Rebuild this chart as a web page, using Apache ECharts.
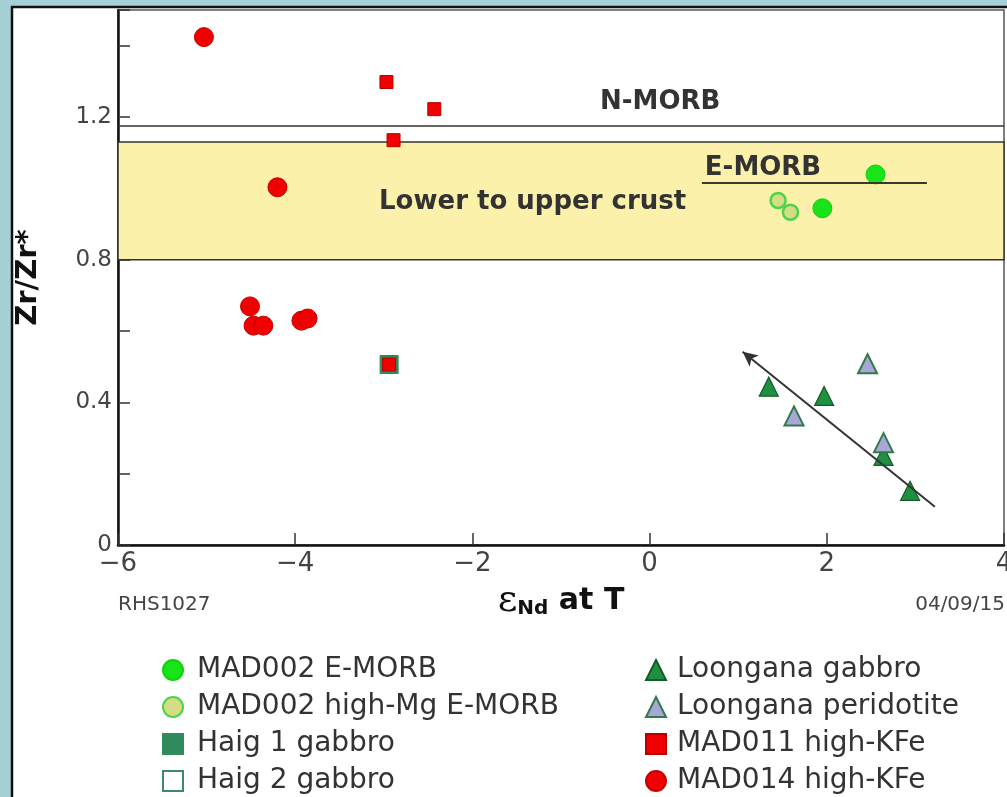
<!DOCTYPE html>
<html>
<head>
<meta charset="utf-8">
<script src="https://cdn.jsdelivr.net/npm/echarts@6/dist/echarts.min.js"></script>
<style>
  html, body { margin: 0; padding: 0; background: #a6d0d6; }
  #chart { width: 1007px; height: 797px; }
</style>
</head>
<body>
<div id="chart"></div>
<script>
// eNd at T vs Zr/Zr*
var mad002EMorb = [[2.55, 1.039], [1.95, 0.944]];
var mad002HighMg = [[1.45, 0.966], [1.59, 0.933]];
var haig1Gabbro = [[-2.94, 0.506]];
var haig2Gabbro = [];
var loonganaGabbro = [[1.345, 0.444], [1.97, 0.418], [2.64, 0.25], [2.94, 0.152]];
var loonganaPeridotite = [[2.46, 0.508], [1.63, 0.362], [2.64, 0.287]];
var mad011HighKFe = [[-2.97, 1.298], [-2.43, 1.222], [-2.89, 1.135], [-2.94, 0.506]];
var mad014HighKFe = [[-5.03, 1.424], [-4.2, 1.003], [-4.51, 0.669], [-4.47, 0.615],
  [-4.36, 0.615], [-3.93, 0.629], [-3.86, 0.635]];

// reference fields
var crustBand = [0.8, 1.13];
var nMorbLevel = 1.175;
var eMorbLine = [[0.59, 1.017], [3.13, 1.017]];
var trendArrow = [[3.22, 0.107], [1.05, 0.542]];
var notes = [
  { name: 'N-MORB', coord: [0.12, 1.242] },
  { name: 'Lower to upper crust', coord: [-1.32, 0.96] },
  { name: 'E-MORB', coord: [1.28, 1.057] }
];

var legendLeft = ['MAD002 E-MORB', 'MAD002 high-Mg E-MORB', 'Haig 1 gabbro', 'Haig 2 gabbro'];
var legendRight = ['Loongana gabbro', 'Loongana peridotite', 'MAD011 high-KFe', 'MAD014 high-KFe'];

var font = 'DejaVu Sans, Liberation Sans, Arial, sans-serif';
var chart = echarts.init(document.getElementById('chart'));

function minus(v) {
  return v < 0 ? '\u2212' + Math.abs(v) : String(v);
}

var option = {
  backgroundColor: '#a6d0d6',
  animation: false,
  textStyle: { fontFamily: font },
  graphic: [
    {
      type: 'rect', z: -10, silent: true,
      shape: { x: 12, y: 7, width: 1010, height: 810 },
      style: { fill: '#fff', stroke: '#111', lineWidth: 2.5 }
    },
    {
      type: 'text', left: 118, top: 595,
      style: { text: 'RHS1027', fontSize: 20, fill: '#444', fontFamily: font }
    },
    {
      type: 'text', right: 2, top: 595,
      style: { text: '04/09/15', fontSize: 20, fill: '#444', fontFamily: font }
    }
  ],
  grid: {
    left: 118, right: 3, top: 10, bottom: 252,
    outerBoundsMode: 'none',
    show: true, borderColor: '#555', borderWidth: 1.5, backgroundColor: 'transparent'
  },
  legend: [
    {
      data: legendLeft, orient: 'vertical', left: 157, top: 651, height: 300,
      itemWidth: 20, itemHeight: 20, itemGap: 9, selectedMode: false,
      textStyle: { fontSize: 28, color: '#333', fontFamily: font, padding: [0, 0, 0, 9] }
    },
    {
      data: legendRight, orient: 'vertical', left: 640, top: 651, height: 300,
      itemWidth: 20, itemHeight: 20, itemGap: 9, selectedMode: false,
      textStyle: { fontSize: 28, color: '#333', fontFamily: font, padding: [0, 0, 0, 6] }
    }
  ],
  xAxis: {
    type: 'value', min: -6, max: 4, interval: 2,
    name: '{e|\u03b5}{s|Nd}{t| at T}',
    nameLocation: 'middle', nameGap: 26,
    nameTextStyle: {
      rich: {
        e: { fontSize: 38, color: '#111', fontFamily: 'DejaVu Serif, serif' },
        s: { fontSize: 20, fontWeight: 'bold', color: '#111', padding: [16, 0, 0, 0] },
        t: { fontSize: 30, fontWeight: 'bold', color: '#111' }
      }
    },
    axisLine: { onZero: false, lineStyle: { color: '#111', width: 2.5 } },
    axisTick: { inside: true, length: 12, lineStyle: { color: '#333', width: 1.5 } },
    axisLabel: { fontSize: 26, color: '#444', margin: 6, formatter: minus },
    splitLine: { show: false }
  },
  yAxis: {
    type: 'value', min: 0, max: 1.5, interval: 0.2,
    name: 'Zr/Zr*', nameLocation: 'middle', nameGap: 75, nameRotate: 90,
    nameTextStyle: { fontSize: 29, fontWeight: 'bold', color: '#111' },
    axisLine: { onZero: false, lineStyle: { color: '#111', width: 2.5 } },
    axisTick: { inside: true, length: 12, lineStyle: { color: '#333', width: 1.5 } },
    axisLabel: {
      fontSize: 23, color: '#444', margin: 6,
      formatter: function (v) {
        var k = Math.round(v * 10);
        if (k % 4 !== 0) return '';
        return k === 0 ? '0' : v.toFixed(1);
      }
    },
    splitLine: { show: false }
  },
  series: [
    {
      name: 'fields', type: 'scatter', data: [], silent: true, z: 1,
      markArea: {
        silent: true,
        itemStyle: { color: '#fcf1aa', borderColor: '#333', borderWidth: 1.5 },
        data: [[{ yAxis: crustBand[0] }, { yAxis: crustBand[1] }]]
      },
      markLine: {
        silent: true, symbol: ['none', 'none'], precision: 3,
        label: { show: false },
        lineStyle: { color: '#333', width: 1.5, type: 'solid' },
        data: [
          { yAxis: nMorbLevel },
          [{ coord: eMorbLine[0] }, { coord: eMorbLine[1], lineStyle: { color: '#3a3a2a', width: 2 } }],
          [{ coord: trendArrow[0], symbol: 'none' },
           { coord: trendArrow[1], symbol: 'arrow', symbolSize: [11, 15], lineStyle: { color: '#333', width: 2 } }]
        ]
      },
      markPoint: {
        silent: true, symbol: 'circle', symbolSize: 0,
        label: {
          show: true, position: 'inside', formatter: '{b}',
          fontSize: 26, fontWeight: 'bold', color: '#333', fontFamily: font
        },
        data: notes
      }
    },
    {
      name: 'Haig 1 gabbro', type: 'scatter', symbol: 'rect', symbolSize: 18, z: 3,
      itemStyle: { color: '#2f8a5c', borderColor: '#2f8a5c', borderWidth: 1, opacity: 1 },
      data: haig1Gabbro
    },
    {
      name: 'Haig 2 gabbro', type: 'scatter', symbol: 'rect', symbolSize: 18, z: 3,
      itemStyle: { color: '#fff', borderColor: '#3b8a6a', borderWidth: 2, opacity: 1 },
      data: haig2Gabbro
    },
    {
      name: 'MAD011 high-KFe', type: 'scatter', symbol: 'rect', symbolSize: 13, z: 4,
      itemStyle: { color: '#f00000', borderColor: '#b80000', borderWidth: 1, opacity: 1 },
      data: mad011HighKFe
    },
    {
      name: 'MAD014 high-KFe', type: 'scatter', symbol: 'circle', symbolSize: 19, z: 4,
      itemStyle: { color: '#f00000', borderColor: '#c80000', borderWidth: 1, opacity: 1 },
      data: mad014HighKFe
    },
    {
      name: 'MAD002 E-MORB', type: 'scatter', symbol: 'circle', symbolSize: 19, z: 4,
      itemStyle: { color: '#18e418', borderColor: '#12d012', borderWidth: 1, opacity: 1 },
      data: mad002EMorb
    },
    {
      name: 'MAD002 high-Mg E-MORB', type: 'scatter', symbol: 'circle', symbolSize: 15, z: 4,
      itemStyle: { color: '#d6dc86', borderColor: '#4ad44a', borderWidth: 2.5, opacity: 1 },
      data: mad002HighMg
    },
    {
      name: 'Loongana gabbro', type: 'scatter', symbol: 'triangle', symbolSize: 19, z: 4,
      itemStyle: { color: '#1f9040', borderColor: '#145c28', borderWidth: 1.2, opacity: 1 },
      data: loonganaGabbro
    },
    {
      name: 'Loongana peridotite', type: 'scatter', symbol: 'triangle', symbolSize: 19, z: 4,
      itemStyle: { color: '#a8a8d8', borderColor: '#2f7a4a', borderWidth: 2, opacity: 1 },
      data: loonganaPeridotite
    }
  ]
};

chart.setOption(option);
</script>
</body>
</html>
